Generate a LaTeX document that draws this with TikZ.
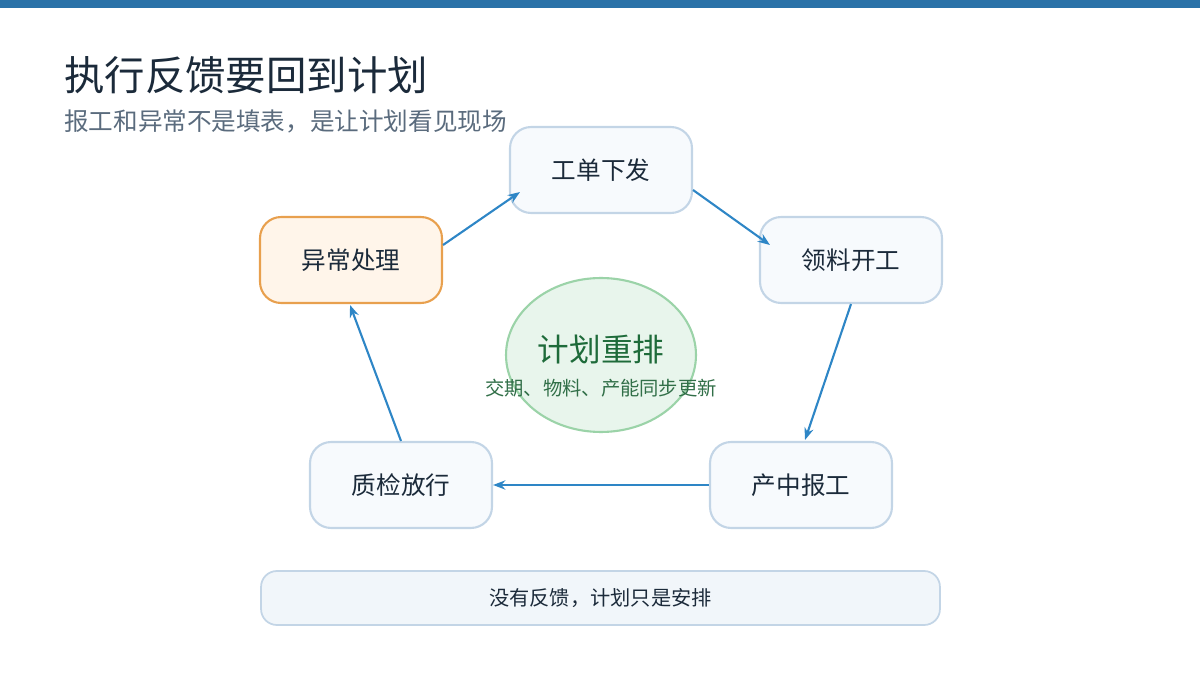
\documentclass[tikz,border=0pt]{standalone}
\usepackage{fontspec}
\setmainfont{Noto Sans CJK SC}
\usetikzlibrary{positioning, arrows.meta, shapes.geometric}
\definecolor{barblue}{HTML}{2A72A8}
\definecolor{titleink}{HTML}{1B2A3A}
\definecolor{subink}{HTML}{5A6B7D}
\definecolor{stepline}{HTML}{C3D5E6}
\definecolor{stepfill}{HTML}{F7FAFD}
\definecolor{warnline}{HTML}{E8A04E}
\definecolor{warnfill}{HTML}{FFF5EA}
\definecolor{flowblue}{HTML}{2E86C6}
\definecolor{hubfill}{HTML}{E8F5EC}
\definecolor{hubline}{HTML}{9BD3A8}
\definecolor{hubink}{HTML}{1E6B3A}
\definecolor{notefill}{HTML}{F1F6FA}

\begin{document}
\begin{tikzpicture}[
    x=0.02cm, y=-0.02cm,
    every node/.style={font=\normalsize},
    stage/.style={draw=stepline, line width=1.2pt, fill=stepfill, rounded corners=12pt,
        minimum width=3.64cm, minimum height=1.72cm, text=titleink, font=\fontsize{14}{16}\selectfont},
    flow/.style={->, >={Stealth[length=7pt]}, draw=flowblue, line width=1.2pt}
]
    % Canvas and top bar
    \useasboundingbox (0,0) rectangle (1200,675);
    \fill[barblue] (0,0) rectangle (1200,8);

    % Titles
    \node[anchor=west, text=titleink, font=\fontsize{23}{26}\selectfont] (Title) at (58,75) {执行反馈要回到计划};
    \node[anchor=west, text=subink, font=\fontsize{14}{16}\selectfont] (Sub) at (58,121) {报工和异常不是填表，是让计划看见现场};

    % Loop stages
    \node[stage] (Issue) at (601,170) {工单下发};
    \node[stage] (Pick) at (851,260) {领料开工};
    \node[stage] (Report) at (801,485) {产中报工};
    \node[stage] (Check) at (401,485) {质检放行};
    \node[stage, draw=warnline, fill=warnfill] (Fault) at (351,260) {异常处理};

    % Centre hub
    \node[ellipse, draw=hubline, line width=1.2pt, fill=hubfill,
        minimum width=3.8cm, minimum height=3.08cm] (Hub) at (601,355) {};
    \node[text=hubink, font=\fontsize{18}{20}\selectfont] (HubT) at (601,349) {计划重排};
    \node[text=hubink!80!gray, font=\fontsize{11}{13}\selectfont] (HubS) at (601,388) {交期、物料、产能同步更新};

    % Connectors
    \draw[flow] (Fault.east |- 0,245) -- (520,192);
    \draw[flow] (Issue.east |- 0,190) -- (770,245);
    \draw[flow] (Pick.south) -- (805,440);
    \draw[flow] (Report.west) -- (Check.east);
    \draw[flow] (Check.north) -- (350,305);

    % Bottom note
    \node[draw=stepline, fill=notefill, rounded corners=9pt, line width=1pt,
        minimum width=13.58cm, minimum height=1.08cm, text=titleink,
        font=\fontsize{11.5}{13}\selectfont] (Note) at (600.5,598) {没有反馈，计划只是安排};
\end{tikzpicture}
\end{document}
